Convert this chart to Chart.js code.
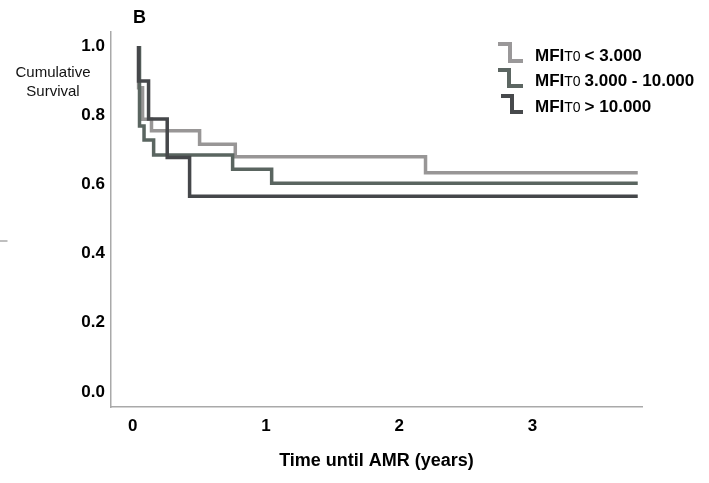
<!DOCTYPE html>
<html><head><meta charset="utf-8">
<script src="https://cdn.jsdelivr.net/npm/chart.js@4.4.1/dist/chart.umd.min.js"></script>
<style>html,body{margin:0;padding:0;background:#fff;} canvas{display:block;}</style>
</head><body>
<canvas id="c" width="709" height="483"></canvas>
<script>
// ---- data ----
const groupLabels = ['< 3.000', '3.000 - 10.000', '> 10.000'];
const xTicks = [0, 1, 2, 3];
const yTicks = [0.0, 0.2, 0.4, 0.6, 0.8, 1.0];
// Kaplan-Meier step points: first point is the start at 1.0, the rest are values after each drop; last is end of follow-up
const lowTimes  = [0.043, 0.043, 0.073, 0.140, 0.501, 0.769, 2.197, 3.790];
const lowSurv   = [1.000, 0.879, 0.788, 0.755, 0.716, 0.680, 0.634, 0.634];
const midTimes  = [0.050, 0.050, 0.084, 0.156, 0.749, 1.042, 3.790];
const midSurv   = [1.000, 0.769, 0.728, 0.685, 0.644, 0.603, 0.603];
const highTimes = [0.043, 0.043, 0.118, 0.258, 0.426, 3.790];
const highSurv  = [1.000, 0.899, 0.789, 0.678, 0.566, 0.566];

const colors = ['#989696', '#5a6560', '#45474a'];
const legendColors = ['#9a9899', '#5c6662', '#47494c'];

function pts(t, s) { return t.map((v, i) => ({x: v, y: s[i]})); }

const FONT = '"Liberation Sans", Arial, sans-serif';

const extras = {
  id: 'extras',
  afterDraw(chart) {
    const ctx = chart.ctx;
    ctx.save();
    ctx.fillStyle = '#000';
    ctx.textBaseline = 'alphabetic';
    // panel letter
    ctx.font = 'bold 18px ' + FONT;
    ctx.textAlign = 'left';
    ctx.fillText('B', 133, 23);
    // y axis title (horizontal, two lines)
    ctx.font = '15px ' + FONT;
    ctx.textAlign = 'center';
    ctx.fillStyle = '#111';
    ctx.fillText('Cumulative', 53, 77);
    ctx.fillText('Survival', 53, 96);
    // stray tick mark on the left edge
    ctx.strokeStyle = '#aaaaaa';
    ctx.lineWidth = 1.5;
    ctx.beginPath(); ctx.moveTo(0, 241); ctx.lineTo(7.5, 241); ctx.stroke();
    // legend
    const rows = [
      {base: 61, top: 44, bot: 61, x0: 498, xm: 510},
      {base: 86, top: 70, bot: 86, x0: 498, xm: 509},
      {base: 112, top: 96, bot: 112, x0: 501, xm: 512}
    ];
    rows.forEach((r, i) => {
      ctx.strokeStyle = legendColors[i];
      ctx.lineWidth = 4;
      ctx.lineJoin = 'miter';
      ctx.beginPath();
      ctx.moveTo(r.x0, r.top); ctx.lineTo(r.xm, r.top); ctx.lineTo(r.xm, r.bot); ctx.lineTo(523, r.bot);
      ctx.stroke();
      ctx.fillStyle = '#000';
      ctx.textAlign = 'left';
      let x = 535;
      ctx.font = 'bold 17px ' + FONT;
      ctx.fillText('MFI', x, r.base);
      x += ctx.measureText('MFI').width;
      ctx.font = '14px "Liberation Sans Narrow", ' + FONT;
      ctx.fillText('T0', x, r.base);
      x += ctx.measureText('T0').width + 4;
      ctx.font = 'bold 17px ' + FONT;
      ctx.fillText(groupLabels[i], x, r.base);
    });
    ctx.restore();
  }
};

const lineBase = {stepped: true, pointRadius: 0, borderWidth: 3.5, fill: false, borderCapStyle: 'butt', borderJoinStyle: 'miter'};

new Chart(document.getElementById('c'), {
  type: 'line',
  data: {
    datasets: [
      Object.assign({label: 'MFI T0 ' + groupLabels[0], data: pts(lowTimes, lowSurv), borderColor: colors[0], order: 3}, lineBase),
      Object.assign({label: 'MFI T0 ' + groupLabels[1], data: pts(midTimes, midSurv), borderColor: colors[1], order: 2}, lineBase),
      Object.assign({label: 'MFI T0 ' + groupLabels[2], data: pts(highTimes, highSurv), borderColor: colors[2], order: 1}, lineBase)
    ]
  },
  options: {
    responsive: false,
    animation: false,
    devicePixelRatio: 1,
    layout: {padding: {top: 32, right: 67, left: 0, bottom: 0}},
    plugins: {legend: {display: false}, tooltip: {enabled: false}},
    scales: {
      x: {
        type: 'linear', min: -0.164, max: 3.822,
        afterBuildTicks: s => { s.ticks = xTicks.map(v => ({value: v})); },
        afterFit: s => { s.height = 76; },
        grid: {display: false, drawTicks: false},
        border: {display: true, color: '#a9a9a9', width: 1.5},
        ticks: {padding: 9, color: '#000', font: {family: '"Liberation Sans Narrow", "Liberation Sans", Arial', size: 17, weight: 'bold'}, callback: v => String(v)},
        title: {display: true, text: 'Time until AMR (years)', color: '#000', font: {family: FONT, size: 18, weight: 'bold'}, padding: {top: 0, bottom: 11}}
      },
      y: {
        type: 'linear', min: -0.0434, max: 1.0405,
        afterBuildTicks: s => { s.ticks = yTicks.map(v => ({value: v})); },
        afterFit: s => { s.width = 111; },
        grid: {display: false, drawTicks: false},
        border: {display: true, color: '#a9a9a9', width: 1.5},
        ticks: {padding: 6, color: '#000', font: {family: FONT, size: 17, weight: 'bold'}, callback: v => Number(v).toFixed(1)}
      }
    }
  },
  plugins: [extras]
});
</script>
</body></html>
